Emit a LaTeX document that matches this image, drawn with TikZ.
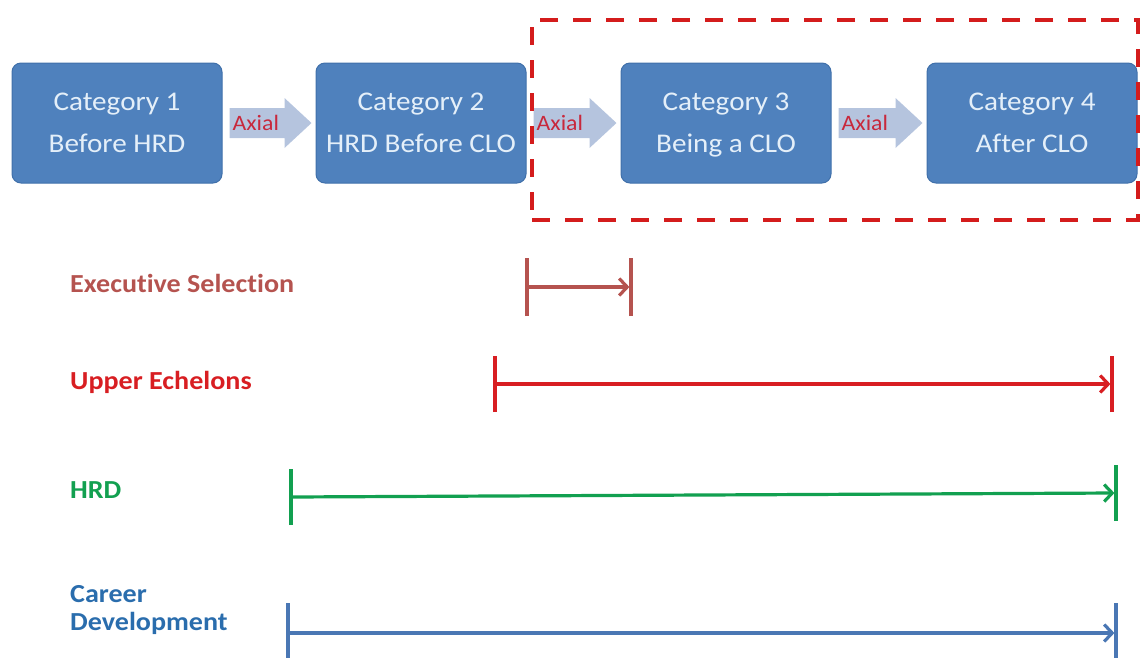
\documentclass[tikz,border=0pt]{standalone}
\usepackage{fontspec}
\setmainfont{Carlito}[FakeStretch=1.08, Ligatures=NoCommon]
\usetikzlibrary{arrows.meta,calc}

\definecolor{boxblue}{HTML}{4F81BD}
\definecolor{boxedge}{HTML}{4070AA}
\definecolor{boxtext}{HTML}{E4EFF9}
\definecolor{axialfill}{HTML}{B5C4DE}
\definecolor{axialtext}{HTML}{C8283C}
\definecolor{framered}{HTML}{D41C1C}
\definecolor{execcol}{HTML}{B5534F}
\definecolor{uppercol}{HTML}{D81E22}
\definecolor{hrdcol}{HTML}{12A050}
\definecolor{careercol}{HTML}{2A6DAD}
\definecolor{careerline}{HTML}{4A77B4}

\tikzset{
  catbox/.style={rectangle, rounded corners=9pt, fill=boxblue, draw=boxedge,
    line width=1pt, minimum width=210pt, minimum height=120pt,
    text=boxtext, align=center, font=\fontsize{27}{42}\selectfont, inner sep=0pt},
  axiallabel/.style={anchor=west, text=axialtext, inner sep=0pt,
    font=\fontsize{22}{22}\selectfont},
  framebox/.style={draw=framered, line width=4pt, dash pattern=on 18pt off 15pt,
    minimum width=606pt, minimum height=200pt, inner sep=0pt},
  spanlabel/.style={anchor=west, inner sep=0pt, align=left,
    font=\fontsize{26}{28}\selectfont\bfseries},
  spanline/.style={line width=3.2pt, -{Straight Barb[length=8pt,width=17pt,line width=3.2pt]}},
  spantick/.style={line width=3.2pt},
}

% block arrow between the east side of one box and the west side of the next
\newcommand\axialarrow[3]{%
  \coordinate (#3s) at ($(#1.east)+(7pt,0)$);
  \coordinate (#3e) at ($(#2.west)+(-4pt,0)$);
  \fill[axialfill] ($(#3s)+(0,-15pt)$) -- ($(#3e)+(-27pt,-15pt)$)
    -- ($(#3e)+(-27pt,-25pt)$) -- (#3e) -- ($(#3e)+(-27pt,25pt)$)
    -- ($(#3e)+(-27pt,15pt)$) -- ($(#3s)+(0,15pt)$) -- cycle;
  \node[axiallabel] (#3t) at ($(#3s)+(3pt,0)$) {Axial};
}

% time span: start tick, arrow, end tick
\newcommand\timespan[5]{% start, end, colour, half tick (start), half tick (end)
  \draw[spantick, #3] ($(#1)+(0,-#4)$) -- ($(#1)+(0,#4)$);
  \draw[spantick, #3] ($(#2)+(0,-#5)$) -- ($(#2)+(0,#5)$);
  \draw[spanline, #3] (#1) -- ($(#2)+(-1.6pt,0)$);
}

% two struts keep every box's lines on the same baselines
\newcommand\cattext[2]{\strut#1\\#2\strut}

\begin{document}
\begin{tikzpicture}[x=1pt, y=-1pt]
  \useasboundingbox (0,0) rectangle (1141,657);

  % category boxes
  \node[catbox] (c1) at (117,123) {\cattext{Category 1}{Before HRD}};
  \node[catbox] (c2) at (421,123) {\cattext{Category 2}{HRD Before CLO}};
  \node[catbox] (c3) at (726,123) {\cattext{Category 3}{Being a CLO}};
  \node[catbox] (c4) at (1032,123) {\cattext{Category 4}{After CLO}};

  % axial steps
  \axialarrow{c1}{c2}{a1}
  \axialarrow{c2}{c3}{a2}
  \axialarrow{c3}{c4}{a3}

  % focus frame round the last two categories
  \node[framebox] (focus) at (835,120) {};

  % theory spans
  \node[spanlabel, text=execcol] (lexec) at (70,283) {Executive Selection};
  \coordinate (exs) at (527,287);
  \coordinate (exe) at (631,287);
  \timespan{exs}{exe}{execcol}{29pt}{29pt}

  \node[spanlabel, text=uppercol] (lupper) at (70,382) {Upper Echelons};
  \coordinate (ups) at (495,384);
  \coordinate (upe) at (1112,384);
  \timespan{ups}{upe}{uppercol}{28pt}{28pt}

  \node[spanlabel, text=hrdcol] (lhrd) at (70,490) {HRD};
  \coordinate (hrs) at (291,497);
  \coordinate (hre) at (1116,493);
  \timespan{hrs}{hre}{hrdcol}{28pt}{28pt}

  \node[spanlabel, text=careercol] (lcareer) at (70,610) {Career\\Development};
  \coordinate (cds) at (288,633);
  \coordinate (cde) at (1116,633);
  \timespan{cds}{cde}{careerline}{30pt}{30pt}
\end{tikzpicture}
\end{document}
